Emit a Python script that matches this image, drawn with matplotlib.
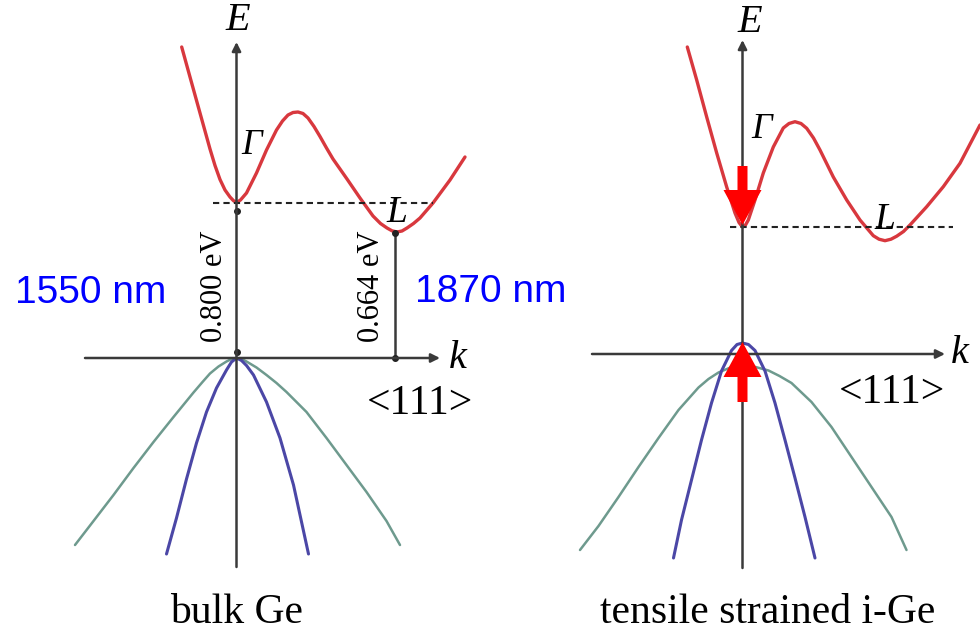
import matplotlib
matplotlib.use('Agg')
import matplotlib.pyplot as plt

# band curves, k and E in arbitrary units (origin = Gamma, VB top)
# bulk Ge
BULK_CB_K = [-0.548, -0.465, -0.365, -0.265, -0.215, -0.165, -0.115, -0.065, -0.03, 0.0,
             0.04, 0.10, 0.20, 0.30, 0.40, 0.46, 0.515, 0.565, 0.615, 0.665,
             0.715, 0.775, 0.835, 0.90, 0.965, 1.105, 1.235, 1.365, 1.44, 1.505,
             1.555, 1.605, 1.655, 1.705, 1.77, 1.835, 1.965, 2.135, 2.285]
BULK_CB_E = [3.11, 2.81, 2.45, 2.09, 1.925, 1.785, 1.68, 1.61, 1.573, 1.555,
             1.58, 1.65, 1.85, 2.08, 2.28, 2.37, 2.43, 2.455, 2.46, 2.445,
             2.40, 2.315, 2.215, 2.10, 1.99, 1.79, 1.60, 1.42, 1.345, 1.30,
             1.272, 1.26, 1.27, 1.30, 1.345, 1.40, 1.55, 1.78, 2.01]
BULK_HH_K = [-1.615, -1.43, -1.23, -1.03, -0.83, -0.63, -0.43, -0.34, -0.265, -0.18,
             -0.10, -0.05, 0.0, 0.05, 0.10, 0.20, 0.30, 0.40, 0.50, 0.70,
             0.90, 1.10, 1.30, 1.50, 1.635]
BULK_HH_E = [-1.87, -1.63, -1.37, -1.10, -0.84, -0.59, -0.345, -0.24, -0.155, -0.085,
             -0.035, -0.01, 0.0, -0.01, -0.035, -0.095, -0.17, -0.25, -0.34, -0.54,
             -0.80, -1.07, -1.34, -1.63, -1.87]
BULK_LH_K = [-0.70, -0.60, -0.50, -0.40, -0.30, -0.20, -0.10, -0.05, 0.0,
             0.05, 0.10, 0.17, 0.30, 0.435, 0.57, 0.72]
BULK_LH_E = [-1.96, -1.60, -1.21, -0.85, -0.54, -0.30, -0.12, -0.04, 0.0,
             -0.025, -0.075, -0.17, -0.44, -0.80, -1.27, -1.96]
BULK_GAMMA = 1.555
BULK_L_K = 1.585
BULK_L_E = 1.25
BULK_DASH_K = [-0.235, 1.965]

# tensile strained Ge
STR_CB_K = [-0.552, -0.458, -0.358, -0.258, -0.158, -0.075, -0.035, 0.0, 0.03, 0.058,
            0.125, 0.208, 0.308, 0.408, 0.465, 0.525, 0.585, 0.642, 0.71, 0.775,
            0.908, 1.042, 1.175, 1.308, 1.365, 1.425, 1.485, 1.542, 1.61, 1.675,
            1.842, 2.008, 2.175, 2.375]
STR_CB_E = [3.07, 2.74, 2.37, 2.01, 1.67, 1.41, 1.315, 1.27, 1.29, 1.34,
            1.54, 1.81, 2.07, 2.26, 2.305, 2.323, 2.305, 2.257, 2.16, 2.04,
            1.77, 1.54, 1.34, 1.183, 1.148, 1.133, 1.148, 1.178, 1.225, 1.29,
            1.473, 1.673, 1.907, 2.29]
STR_HH_K = [-1.625, -1.44, -1.24, -1.04, -0.84, -0.64, -0.44, -0.34, -0.24, -0.12,
            0.0, 0.13, 0.26, 0.37, 0.49, 0.69, 0.89, 1.09, 1.29, 1.49, 1.64]
STR_HH_E = [-1.96, -1.72, -1.43, -1.13, -0.84, -0.56, -0.335, -0.25, -0.185, -0.135,
            -0.12, -0.13, -0.165, -0.22, -0.29, -0.48, -0.73, -1.03, -1.33, -1.63, -1.96]
STR_LH_K = [-0.69, -0.61, -0.51, -0.41, -0.31, -0.21, -0.11, -0.055, 0.0,
            0.06, 0.125, 0.225, 0.325, 0.425, 0.525, 0.625, 0.725]
STR_LH_E = [-2.04, -1.66, -1.26, -0.86, -0.49, -0.17, 0.035, 0.095, 0.11,
            0.095, 0.035, -0.17, -0.49, -0.86, -1.24, -1.63, -2.04]
STR_GAMMA = 1.27
STR_DASH_K = [-0.13, 2.10]

CB_COLOR = '#d8383e'
HH_COLOR = '#6e9a8e'
LH_COLOR = '#4b47a6'
AX_COLOR = '#3a3a3a'
SERIF = 'Liberation Serif'


def axis_arrow(ax, start, end):
  ax.annotate('', xy=end, xytext=start,
              arrowprops=dict(arrowstyle='-|>', lw=1.8, color=AX_COLOR,
                              mutation_scale=13, shrinkA=0, shrinkB=0))


def band(ax, k, e, color, lw):
  ax.plot(k, e, color=color, lw=lw, solid_capstyle='round',
          solid_joinstyle='round')


fig = plt.figure(figsize=(9.8, 6.34), dpi=100)
ax1 = fig.add_axes([0, 0, 0.5, 1])
ax2 = fig.add_axes([0.5, 0, 0.5, 1])
ax1.set_xlim(-2.365, 2.535)
ax1.set_ylim(-2.76, 3.58)
ax2.set_xlim(-2.525, 2.375)
ax2.set_ylim(-2.80, 3.54)
for ax in (ax1, ax2):
  ax.axis('off')

# ---- bulk Ge ----
axis_arrow(ax1, (0, -2.09), (0, 3.16))
axis_arrow(ax1, (-1.515, 0), (2.035, 0))
band(ax1, BULK_HH_K, BULK_HH_E, HH_COLOR, 1.8)
band(ax1, BULK_LH_K, BULK_LH_E, LH_COLOR, 2.2)
band(ax1, BULK_CB_K, BULK_CB_E, CB_COLOR, 2.4)
ax1.plot(BULK_DASH_K, [BULK_GAMMA, BULK_GAMMA], color='#222222', lw=1.5,
         ls=(0, (3, 2)))
ax1.plot([BULK_L_K, BULK_L_K], [0, BULK_L_E], color=AX_COLOR, lw=1.8)
ax1.plot([0, 0, BULK_L_K, BULK_L_K], [0.06, BULK_GAMMA - 0.08, 0, BULK_L_E],
         'o', color='#222222', ms=4)
ax1.text(0.015, 3.38, 'E', family=SERIF, style='italic', fontsize=29,
         ha='center', va='center')
ax1.text(2.215, 0.0, 'k', family=SERIF, style='italic', fontsize=29,
         ha='center', va='center')
ax1.text(0.155, 2.13, 'Γ', family=SERIF, style='italic', fontsize=26,
         ha='center', va='center')
ax1.text(1.605, 1.45, 'L', family=SERIF, style='italic', fontsize=27,
         ha='center', va='center')
ax1.text(-0.225, 0.715, '0.800 eV', family=SERIF, fontsize=22, rotation=90,
         ha='center', va='center')
ax1.text(1.35, 0.715, '0.664 eV', family=SERIF, fontsize=22, rotation=90,
         ha='center', va='center')
ax1.text(1.835, -0.46, '<111>', family=SERIF, fontsize=30,
         ha='center', va='center')
ax1.text(0.005, -2.55, 'bulk Ge', family=SERIF, fontsize=30,
         ha='center', va='center')
ax1.text(-1.455, 0.65, '1550 nm', family='Liberation Sans', fontsize=28,
         color='#0000ff', ha='center', va='center')
ax1.text(2.545, 0.66, '1870 nm', family='Liberation Sans', fontsize=28,
         color='#0000ff', ha='center', va='center')

# ---- tensile strained Ge ----
axis_arrow(ax2, (0, -2.14), (0, 3.14))
axis_arrow(ax2, (-1.505, 0), (2.025, 0))
band(ax2, STR_HH_K, STR_HH_E, HH_COLOR, 1.8)
band(ax2, STR_LH_K, STR_LH_E, LH_COLOR, 2.2)
band(ax2, STR_CB_K, STR_CB_E, CB_COLOR, 2.4)
ax2.plot(STR_DASH_K, [STR_GAMMA, STR_GAMMA], color='#222222', lw=1.5,
         ls=(0, (3, 2)))
ax2.arrow(0, 1.88, 0, STR_GAMMA + 0.02 - 1.88, width=0.10, head_width=0.38,
          head_length=0.35, length_includes_head=True, fc='#ff0000',
          ec='none', zorder=6)
ax2.arrow(0, -0.48, 0, 0.60, width=0.10, head_width=0.38,
          head_length=0.35, length_includes_head=True, fc='#ff0000',
          ec='none', zorder=6)
ax2.text(0.075, 3.32, 'E', family=SERIF, style='italic', fontsize=29,
         ha='center', va='center')
ax2.text(2.175, 0.01, 'k', family=SERIF, style='italic', fontsize=29,
         ha='center', va='center')
ax2.text(0.195, 2.24, 'Γ', family=SERIF, style='italic', fontsize=26,
         ha='center', va='center')
ax2.text(1.425, 1.34, 'L', family=SERIF, style='italic', fontsize=27,
         ha='center', va='center')
ax2.text(1.495, -0.39, '<111>', family=SERIF, fontsize=30,
         ha='center', va='center')
ax2.text(0.255, -2.59, 'tensile strained i-Ge', family=SERIF, fontsize=30,
         ha='center', va='center')

fig.savefig('out.png', dpi=100)
